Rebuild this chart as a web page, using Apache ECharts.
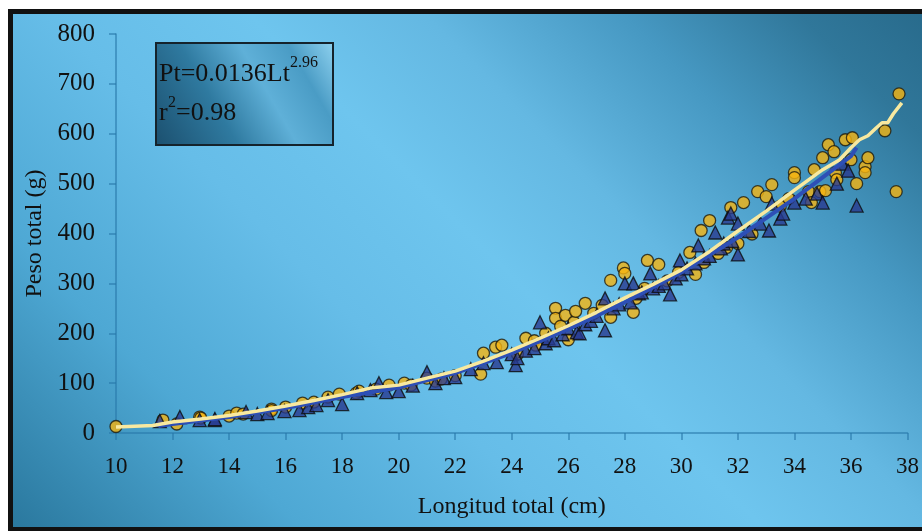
<!DOCTYPE html>
<html>
<head>
<meta charset="utf-8">
<script src="https://cdn.jsdelivr.net/npm/echarts@6/dist/echarts.min.js"></script>
<style>
html,body{margin:0;padding:0;width:922px;height:531px;overflow:hidden;background:#fff;}
#frame{position:absolute;left:8px;top:9px;width:930px;height:513px;border-left:5px solid #111;border-top:5px solid #111;border-bottom:4px solid #111;
background:linear-gradient(45deg,#2a789e 0%,#4ea8d4 20%,#66bde8 38%,#6ec5ee 52%,#64b8e2 64%,#4698c2 78%,#30779a 90%,#27698a 100%);}
#chart{position:absolute;left:0;top:0;width:922px;height:531px;}
</style>
</head>
<body>
<div id="frame"></div>
<div id="chart"></div>
<script>
// Data
const xTicks = [10,12,14,16,18,20,22,24,26,28,30,32,34,36,38];
const yTicks = [0,100,200,300,400,500,600,700,800];

const circleL = [10,11.66,12.15,12.96,13.0,14.0,14.27,14.5,15.5,15.5,16.0,16.6,17.0,17.5,17.9,18.5,18.6,19.2,19.66,20.2,20.44,21.0,21.3,21.5,22.0,22.9,23.0,23.43,23.65,24.2,24.5,24.8,24.85,25.2,25.55,25.55,25.73,25.9,26.0,26.2,26.26,26.6,26.9,27.2,27.5,27.5,27.95,28.0,28.3,28.4,28.7,28.8,29.2,29.5,29.9,30.3,30.5,30.7,30.8,31.0,31.3,31.6,31.75,32.0,32.2,32.5,32.7,33.0,33.2,33.5,33.8,34.0,34.0,34.5,34.6,34.7,34.9,35.0,35.1,35.2,35.4,35.45,35.5,35.8,36.0,36.05,36.2,36.5,36.5,36.6,37.2,37.6,37.7];
const circleP = [13,26,18,32,30,34,40,38,48,45,52,60,62,72,78,80,84,88,96,100,96,110,104,108,115,118,160,172,176,158,190,185,176,200,250,230,214,236,187,222,244,260,240,256,306,232,331,320,242,270,290,346,338,305,322,362,318,406,342,426,360,372,452,380,462,399,484,474,498,455,470,522,512,484,462,528,484,552,486,578,564,522,508,588,548,592,500,534,522,552,606,484,680];

const triangleL = [11.55,12.26,12.96,13.49,13.5,14.6,15.0,15.36,15.96,16.49,16.8,17.09,17.5,18.0,18.53,19.0,19.3,19.56,20.0,20.5,21.0,21.3,21.6,22.0,22.55,23.0,23.47,24.0,24.14,24.2,24.5,24.8,25.0,25.2,25.3,25.5,25.8,26.0,26.3,26.4,26.6,26.8,27.0,27.3,27.3,27.6,27.8,28.0,28.2,28.3,28.5,28.6,28.9,29.0,29.2,29.4,29.6,29.8,29.95,30.0,30.2,30.5,30.6,30.8,31.0,31.2,31.4,31.5,31.65,31.75,31.8,32.0,32.0,32.4,32.8,33.1,33.2,33.5,33.6,34.0,34.4,34.8,35.0,35.5,35.7,35.9,36.2];
const triangleP = [24,32,26,26,28,42,38,40,44,46,52,56,66,58,80,86,100,82,84,95,122,100,110,112,128,140,142,158,136,150,165,170,222,180,190,186,198,210,202,200,218,225,235,206,270,250,258,300,262,300,280,282,320,290,295,300,278,310,346,318,330,340,376,350,355,402,370,380,432,440,385,420,358,405,420,406,460,430,440,462,470,480,462,500,540,526,456];

const fitL = [10,11.3,12,13,14,15,16,17,18,19,20,21,22,23,24,25,26,27,28,29,30,31,32,33,34,35,35.6,36,36.3,36.6,36.9,37.1,37.3,37.5,37.8];
const fitP = [12,15,22,28,35,44,54,65,77,90,96,110,124,144,166,190,215,242,271,298,327,364,405,445,487,528,548,572,588,596,612,622,622,640,662];

const blueL = [11.5,12,14,16,18,20,22,24,26,28,30,32,34,36,36.2];
const blueP = [14,18,32,50,72,91,120,160,208,262,322,392,470,555,572];

const circlePts = circleL.map((v,i)=>[v,circleP[i]]);
const trianglePts = triangleL.map((v,i)=>[v,triangleP[i]]);
const fitPts = fitL.map((v,i)=>[v,fitP[i]]);
const bluePts = blueL.map((v,i)=>[v,blueP[i]]);

const serif = 'Liberation Serif';
const chart = echarts.init(document.getElementById('chart'), null, {renderer:'canvas'});
chart.setOption({
  backgroundColor:'transparent',
  animation:false,
  grid:{left:116,right:13,top:34,bottom:98},
  xAxis:{type:'value',min:10,max:38,interval:2,
    name:'Longitud total (cm)',nameLocation:'middle',nameGap:62,
    nameTextStyle:{fontFamily:serif,fontSize:24,color:'#111'},
    axisLine:{show:true,onZero:false,lineStyle:{color:'rgba(40,120,170,0.75)',width:1.5}},
    axisTick:{show:true,length:7,lineStyle:{color:'rgba(40,120,170,0.75)',width:1.5}},
    axisLabel:{fontFamily:serif,fontSize:23,color:'#111',margin:22,
      formatter:v=>xTicks.includes(v)?String(v):''},
    splitLine:{show:false}},
  yAxis:{type:'value',min:0,max:800,interval:100,
    name:'Peso total (g)',nameLocation:'middle',nameGap:68,
    nameTextStyle:{fontFamily:serif,fontSize:24,color:'#111'},
    axisLine:{show:true,lineStyle:{color:'rgba(40,120,170,0.75)',width:1.5}},
    axisTick:{show:true,length:7,lineStyle:{color:'rgba(40,120,170,0.75)',width:1.5}},
    axisLabel:{fontFamily:serif,fontSize:25,color:'#111',margin:21,
      formatter:v=>yTicks.includes(v)?String(v):''},
    splitLine:{show:false}},
  series:[
    {type:'scatter',data:circlePts,symbol:'circle',symbolSize:12,z:2,
      itemStyle:{color:'#f6b410',borderColor:'#1e1a0c',borderWidth:1.3}},
    {type:'scatter',data:trianglePts,symbol:'triangle',symbolSize:13,z:3,
      itemStyle:{color:'#283a8e',borderColor:'#0c0c0c',borderWidth:1.3}},
    {type:'line',data:bluePts,showSymbol:false,z:4,
      lineStyle:{color:'#2d4fb6',width:4}},
    {type:'line',data:fitPts,showSymbol:false,z:5,
      lineStyle:{color:'#f8e9a0',width:3.5}}
  ],
  graphic:[
    {type:'rect',left:155,top:42,z:10,
      shape:{width:177,height:102},
      style:{fill:new echarts.graphic.LinearGradient(0,1,1,0,[
        {offset:0,color:'#1b4f6e'},{offset:0.35,color:'#2f7aa0'},
        {offset:0.6,color:'#5fb0d8'},{offset:0.8,color:'#4a9cc5'},{offset:1,color:'#8fd2f0'}]),
        stroke:'#15232c',lineWidth:2}},
    {type:'text',left:159,top:61,z:11,
      style:{text:'Pt=0.0136Lt',font:'26px "Liberation Serif"',fill:'#111'}},
    {type:'text',left:290,top:55,z:11,
      style:{text:'2.96',font:'16px "Liberation Serif"',fill:'#111'}},
    {type:'text',left:159,top:100,z:11,
      style:{text:'r',font:'26px "Liberation Serif"',fill:'#111'}},
    {type:'text',left:168,top:95,z:11,
      style:{text:'2',font:'16px "Liberation Serif"',fill:'#111'}},
    {type:'text',left:176,top:100,z:11,
      style:{text:'=0.98',font:'26px "Liberation Serif"',fill:'#111'}}
  ]
});
</script>
</body>
</html>
